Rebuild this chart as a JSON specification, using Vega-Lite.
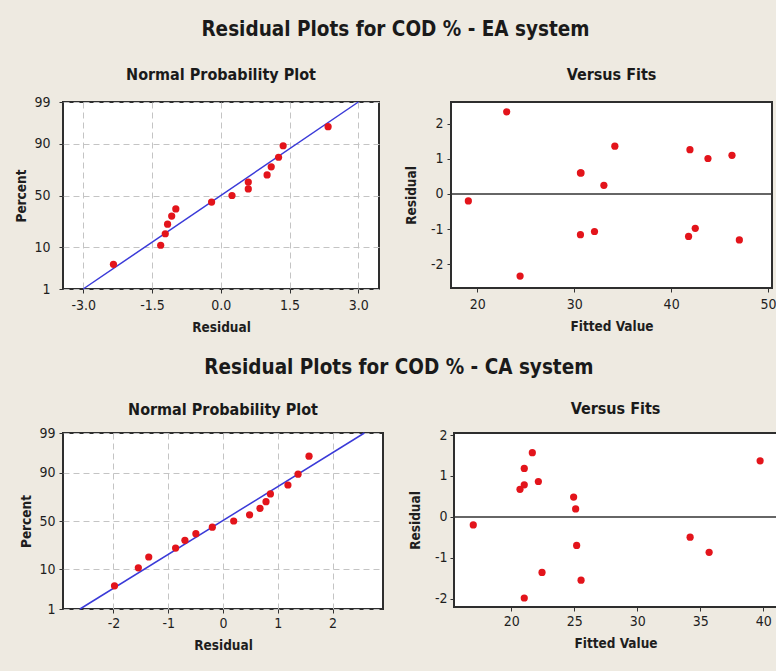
{
  "$schema": "https://vega.github.io/schema/vega-lite/v6.json",
  "background": "#eeeae1",
  "padding": {"left": 13, "top": 19, "right": 0, "bottom": 27},
  "datasets": {
    "ea": [
      {"resid": -2.34, "fitted": 24.41, "pct": 4.5},
      {"resid": -1.31, "fitted": 47.04, "pct": 11.0},
      {"resid": -1.21, "fitted": 41.80, "pct": 17.5},
      {"resid": -1.16, "fitted": 30.64, "pct": 24.0},
      {"resid": -1.07, "fitted": 32.09, "pct": 30.5},
      {"resid": -0.98, "fitted": 42.49, "pct": 37.0},
      {"resid": -0.20, "fitted": 19.07, "pct": 43.5},
      {"resid": 0.245, "fitted": 33.06, "pct": 50.0},
      {"resid": 0.60, "fitted": 30.64, "pct": 56.5},
      {"resid": 0.60, "fitted": 30.70, "pct": 63.0},
      {"resid": 1.01, "fitted": 43.80, "pct": 69.5},
      {"resid": 1.10, "fitted": 46.28, "pct": 76.0},
      {"resid": 1.26, "fitted": 41.94, "pct": 82.5},
      {"resid": 1.36, "fitted": 34.19, "pct": 89.0},
      {"resid": 2.34, "fitted": 23.03, "pct": 95.5}
    ],
    "ca": [
      {"resid": -1.98, "fitted": 21.03, "pct": 4.5},
      {"resid": -1.545, "fitted": 25.54, "pct": 11.0},
      {"resid": -1.355, "fitted": 22.44, "pct": 17.5},
      {"resid": -0.865, "fitted": 35.71, "pct": 24.0},
      {"resid": -0.695, "fitted": 25.19, "pct": 30.5},
      {"resid": -0.495, "fitted": 34.20, "pct": 37.0},
      {"resid": -0.195, "fitted": 16.98, "pct": 43.5},
      {"resid": 0.195, "fitted": 25.11, "pct": 50.0},
      {"resid": 0.485, "fitted": 24.95, "pct": 56.5},
      {"resid": 0.675, "fitted": 20.69, "pct": 63.0},
      {"resid": 0.785, "fitted": 21.03, "pct": 69.5},
      {"resid": 0.865, "fitted": 22.15, "pct": 76.0},
      {"resid": 1.185, "fitted": 21.03, "pct": 82.5},
      {"resid": 1.37, "fitted": 39.76, "pct": 89.0},
      {"resid": 1.57, "fitted": 21.67, "pct": 95.5}
    ],
    "ealine": [
      {"resid": -3.0, "pct": 1},
      {"resid": 3.0, "pct": 99}
    ],
    "caline": [
      {"resid": -2.61, "pct": 1},
      {"resid": 2.58, "pct": 99}
    ],
    "zero": [{"resid": 0}]
  },
  "config": {
    "view": {"stroke": "#2e2e2e", "strokeWidth": 2, "fill": "white"},
    "axis": {
      "domain": false,
      "grid": false,
      "tickColor": "#333333",
      "tickSize": 4,
      "labelFont": "DejaVu Sans Condensed, Liberation Sans",
      "labelFontSize": 14,
      "labelColor": "#1e1e1e",
      "titleFont": "DejaVu Sans Condensed, Liberation Sans",
      "titleFontSize": 13.5,
      "titleFontWeight": "bold",
      "titleColor": "#1e1e1e",
      "gridColor": "#c4c4c4",
      "gridDash": [6, 4],
      "gridWidth": 1
    },
    "axisX": {"labelPadding": 5, "titlePadding": 8},
    "title": {"font": "DejaVu Sans Condensed, Liberation Sans", "fontSize": 16, "fontWeight": "bold", "color": "#1a1a1a", "anchor": "middle"}
  },
  "spacing": 22,
  "vconcat": [
    {
      "title": {"text": "Residual Plots for COD % - EA system", "fontSize": 20.5, "offset": 26},
      "spacing": 23,
      "hconcat": [
        {
          "width": 316, "height": 187,
          "title": {"text": "Normal Probability Plot", "offset": 12},
          "layer": [
            {
              "data": {"name": "ealine"},
              "mark": {"type": "line", "color": "#3a3ad8", "strokeWidth": 1.5},
              "encoding": {
                "x": {"field": "resid", "type": "quantitative", "scale": {"domain": [-3.44, 3.45], "nice": false, "zero": false},
                      "axis": {"title": "Residual", "values": [-3, -1.5, 0, 1.5, 3], "grid": true, "labelExpr": "(datum.value < 0 ? '-' : '') + format(abs(datum.value), '.1f')"}},
                "y": {"field": "pct", "type": "quantitative",
                      "scale": {"domain": [1, 2, 5, 10, 20, 30, 40, 50, 60, 70, 80, 90, 95, 98, 99],
                                "range": [187, 176.04, 159.61, 145.01, 127.32, 114.58, 103.68, 93.5, 83.32, 72.42, 59.67, 41.99, 27.39, 10.96, 0],
                                "nice": false, "zero": false},
                      "axis": {"title": "Percent", "values": [1, 10, 50, 90, 99], "grid": true, "labelPadding": 9, "titlePadding": 5}}
              }
            },
            {
              "data": {"name": "ea"},
              "mark": {"type": "circle", "color": "#e3141b", "size": 52, "opacity": 1},
              "encoding": {
                "x": {"field": "resid", "type": "quantitative"},
                "y": {"field": "pct", "type": "quantitative"}
              }
            }
          ]
        },
        {
          "width": 321, "height": 186,
          "title": {"text": "Versus Fits", "offset": 19},
          "layer": [
            {
              "data": {"name": "zero"},
              "mark": {"type": "rule", "color": "#333333", "strokeWidth": 1.5},
              "encoding": {"y": {"field": "resid", "type": "quantitative"}}
            },
            {
              "data": {"name": "ea"},
              "mark": {"type": "circle", "color": "#e3141b", "size": 52, "opacity": 1},
              "encoding": {
                "x": {"field": "fitted", "type": "quantitative", "scale": {"domain": [17.28, 50.41], "nice": false, "zero": false},
                      "axis": {"title": "Fitted Value", "values": [20, 30, 40, 50]}},
                "y": {"field": "resid", "type": "quantitative", "scale": {"domain": [-2.68, 2.62], "nice": false, "zero": false},
                      "axis": {"title": "Residual", "values": [-2, -1, 0, 1, 2], "labelPadding": 4, "titlePadding": 12, "labelExpr": "(datum.value < 0 ? '-' : '') + format(abs(datum.value), 'd')"}}
              }
            }
          ]
        }
      ]
    },
    {
      "title": {"text": "Residual Plots for COD % - CA system", "fontSize": 20.5, "offset": 22},
      "spacing": 23,
      "hconcat": [
        {
          "width": 320, "height": 176,
          "title": {"text": "Normal Probability Plot", "offset": 8},
          "layer": [
            {
              "data": {"name": "caline"},
              "mark": {"type": "line", "color": "#3a3ad8", "strokeWidth": 1.5},
              "encoding": {
                "x": {"field": "resid", "type": "quantitative", "scale": {"domain": [-2.92, 2.92], "nice": false, "zero": false},
                      "axis": {"title": "Residual", "values": [-2, -1, 0, 1, 2], "grid": true, "labelPadding": 3, "labelExpr": "(datum.value < 0 ? '-' : '') + format(abs(datum.value), 'd')"}},
                "y": {"field": "pct", "type": "quantitative",
                      "scale": {"domain": [1, 2, 5, 10, 20, 30, 40, 50, 60, 70, 80, 90, 95, 98, 99],
                                "range": [176, 165.69, 150.22, 136.48, 119.83, 107.84, 97.58, 88, 78.42, 68.16, 56.16, 39.52, 25.78, 10.31, 0],
                                "nice": false, "zero": false},
                      "axis": {"title": "Percent", "values": [1, 10, 50, 90, 99], "grid": true, "labelPadding": 4, "titlePadding": 5}}
              }
            },
            {
              "data": {"name": "ca"},
              "mark": {"type": "circle", "color": "#e3141b", "size": 52, "opacity": 1},
              "encoding": {
                "x": {"field": "resid", "type": "quantitative"},
                "y": {"field": "pct", "type": "quantitative"}
              }
            }
          ]
        },
        {
          "width": 323, "height": 174,
          "title": {"text": "Versus Fits", "offset": 11},
          "layer": [
            {
              "data": {"name": "zero"},
              "mark": {"type": "rule", "color": "#333333", "strokeWidth": 1.5},
              "encoding": {"y": {"field": "resid", "type": "quantitative"}}
            },
            {
              "data": {"name": "ca"},
              "mark": {"type": "circle", "color": "#e3141b", "size": 52, "opacity": 1},
              "encoding": {
                "x": {"field": "fitted", "type": "quantitative", "scale": {"domain": [15.45, 41.1], "nice": false, "zero": false},
                      "axis": {"title": "Fitted Value", "values": [20, 25, 30, 35, 40], "labelPadding": 3}},
                "y": {"field": "resid", "type": "quantitative", "scale": {"domain": [-2.2, 2.05], "nice": false, "zero": false},
                      "axis": {"title": "Residual", "values": [-2, -1, 0, 1, 2], "labelPadding": 3, "titlePadding": 12, "labelExpr": "(datum.value < 0 ? '-' : '') + format(abs(datum.value), 'd')"}}
              }
            }
          ]
        }
      ]
    }
  ]
}
